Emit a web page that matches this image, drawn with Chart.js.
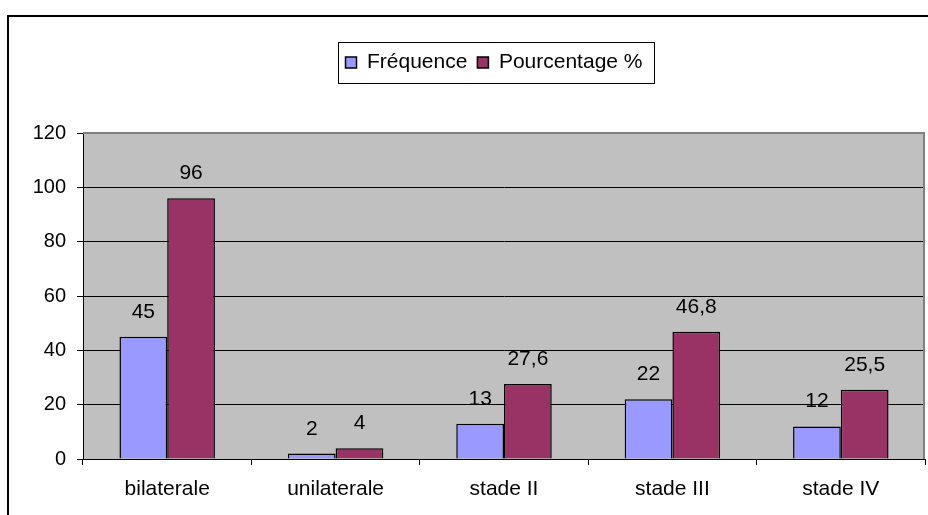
<!DOCTYPE html>
<html>
<head>
<meta charset="utf-8">
<script src="https://cdn.jsdelivr.net/npm/chart.js@4/dist/chart.umd.min.js"></script>
<style>
  html, body { margin: 0; padding: 0; background: #fff; }
  #wrap { position: relative; width: 928px; height: 515px; overflow: hidden; }
  #frame { position: absolute; left: 7px; top: 15px; width: 1000px; height: 600px;
           border-left: 2px solid #000; border-top: 2px solid #000; pointer-events: none; }
  canvas { position: absolute; left: 0; top: 0; }
</style>
</head>
<body>
<div id="wrap">
  <div id="frame"></div>
  <canvas id="c" width="928" height="515"></canvas>
</div>
<script>
const categories = ['bilaterale', 'unilaterale', 'stade II', 'stade III', 'stade IV'];
const frequence = [45, 2, 13, 22, 12];
const pourcentage = [96, 4, 27.6, 46.8, 25.5];
const seriesNames = ['Fréquence', 'Pourcentage %'];
const yTicks = [0, 20, 40, 60, 80, 100, 120];

const FONT = '"Liberation Sans", Arial, sans-serif';

const plotBg = {
  id: 'plotBg',
  beforeDraw(chart) {
    const a = chart.chartArea, ctx = chart.ctx;
    ctx.save();
    ctx.fillStyle = '#C0C0C0';
    ctx.fillRect(a.left, a.top, a.right - a.left, a.bottom - a.top);
    ctx.restore();
  },
  beforeDatasetsDraw(chart) {
    const a = chart.chartArea, ctx = chart.ctx;
    ctx.save();
    ctx.strokeStyle = '#808080';
    ctx.lineWidth = 2;
    ctx.beginPath();
    ctx.moveTo(a.left, a.top);
    ctx.lineTo(a.right - 1, a.top);
    ctx.lineTo(a.right - 1, a.bottom);
    ctx.stroke();
    ctx.restore();
  }
};

const legendShift = {
  id: 'legendShift',
  afterLayout(chart) {
    const lg = chart.legend;
    if (!lg) return;
    lg.left -= 10;
    lg.right -= 10;
  }
};

const legendBox = {
  id: 'legendBox',
  afterDraw(chart) {
    const lg = chart.legend;
    if (!lg || !lg.legendHitBoxes || !lg.legendHitBoxes.length) return;
    const hb = lg.legendHitBoxes;
    const first = hb[0], last = hb[hb.length - 1];
    const x0 = Math.round(first.left - 8) + 0.5;
    const x1 = Math.round(last.left + last.width + 12) + 0.5;
    const y0 = Math.round(lg.top) + 0.5;
    const y1 = Math.round(lg.bottom) + 0.5;
    const ctx = chart.ctx;
    ctx.save();
    ctx.strokeStyle = '#000';
    ctx.lineWidth = 1;
    ctx.strokeRect(x0, y0, x1 - x0, y1 - y0);
    ctx.restore();
  }
};

const valueLabels = {
  id: 'valueLabels',
  afterDatasetsDraw(chart) {
    const ctx = chart.ctx;
    ctx.save();
    ctx.font = '21px ' + FONT;
    ctx.fillStyle = '#000';
    ctx.textAlign = 'center';
    ctx.textBaseline = 'alphabetic';
    chart.data.datasets.forEach((ds, di) => {
      const meta = chart.getDatasetMeta(di);
      meta.data.forEach((bar, i) => {
        const txt = String(ds.data[i]).replace('.', ',');
        ctx.fillText(txt, bar.x, bar.y - 19);
      });
    });
    ctx.restore();
  }
};

new Chart(document.getElementById('c'), {
  type: 'bar',
  data: {
    labels: categories,
    datasets: [
      { label: seriesNames[0], data: frequence, backgroundColor: '#9999FF', borderColor: '#000', borderWidth: 1.5 },
      { label: seriesNames[1], data: pourcentage, backgroundColor: '#993366', borderColor: '#000', borderWidth: 1.5 }
    ]
  },
  options: {
    responsive: false,
    animation: false,
    devicePixelRatio: 1,
    layout: { padding: { left: 0, right: 3, top: 42, bottom: 0 } },
    datasets: { bar: { barPercentage: 1, categoryPercentage: 0.567 } },
    plugins: {
      legend: {
        position: 'top',
        fullSize: false,
        labels: {
          boxWidth: 11, boxHeight: 11, padding: 10,
          color: '#000', font: { family: FONT, size: 21 }
        }
      },
      subtitle: {
        display: true, text: '', weight: 500,
        font: { size: 10, lineHeight: 1 },
        padding: { top: 20, bottom: 20 }
      },
      tooltip: { enabled: false }
    },
    scales: {
      x: {
        grid: { display: true, drawOnChartArea: false, drawTicks: true, tickLength: 6, tickColor: '#000', color: '#000' },
        border: { display: true, color: '#000', width: 1 },
        ticks: { color: '#000', font: { family: FONT, size: 21 }, padding: 12, maxRotation: 0 },
        afterFit(scale) { scale.height = 56; }
      },
      y: {
        min: 0, max: 120,
        afterBuildTicks(scale) { scale.ticks = yTicks.map(v => ({ value: v })); },
        grid: {
          color: (c) => (c.tick && c.tick.value === 120) ? 'rgba(0,0,0,0)' : '#000',
          tickColor: '#000', tickLength: 6, lineWidth: 1
        },
        border: { display: true, color: '#000', width: 1 },
        ticks: { color: '#000', font: { family: FONT, size: 20 }, padding: 11 },
        afterFit(scale) { scale.width = 83; }
      }
    }
  },
  plugins: [plotBg, legendShift, legendBox, valueLabels]
});
</script>
</body>
</html>
